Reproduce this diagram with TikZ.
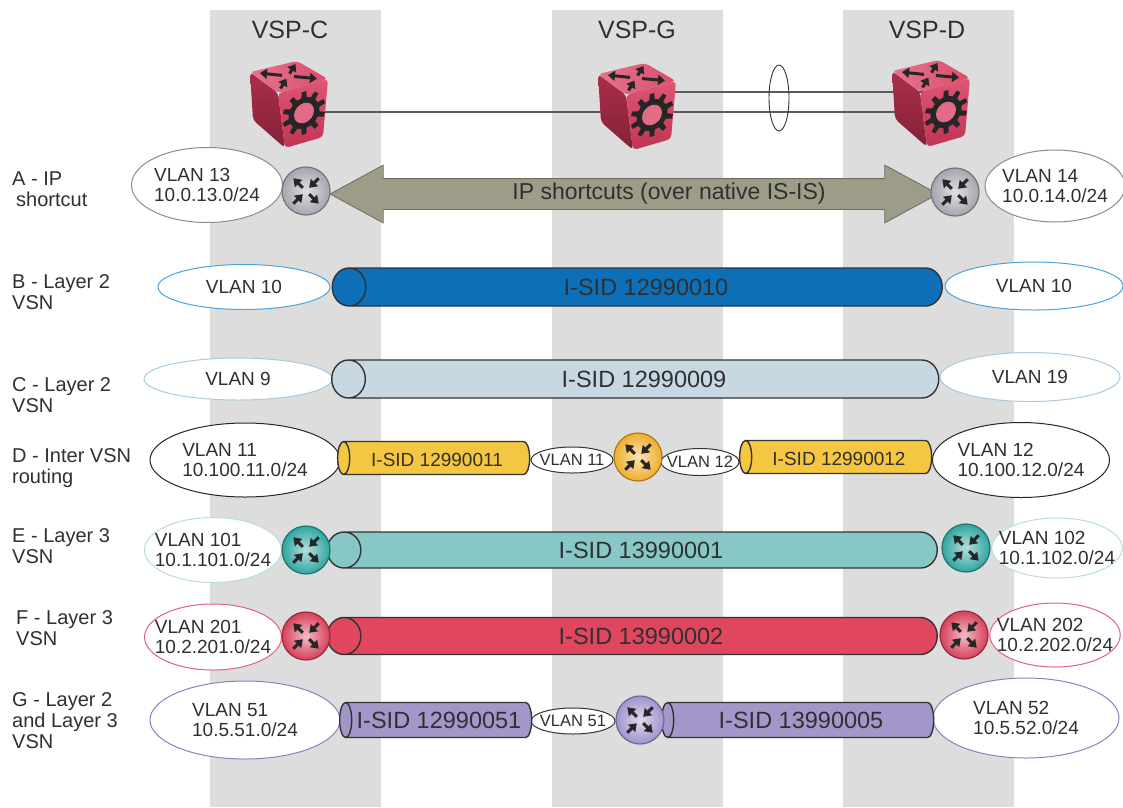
\documentclass[tikz,border=0pt]{standalone}
\usepackage{fontspec}
\setmainfont{Liberation Sans}
\usepackage{tikz}
\usetikzlibrary{shapes.geometric,shapes.arrows,arrows.meta}

\definecolor{colgray}{HTML}{DDDDDD}
\definecolor{txtgray}{HTML}{303030}
\definecolor{linkgray}{HTML}{5A5A5A}
\definecolor{vspred}{HTML}{D8395C}
\definecolor{scfill}{HTML}{9C9C88}
\definecolor{rtgray}{HTML}{A4A6AE}
\definecolor{rtorange}{HTML}{F0AE2C}
\definecolor{rtteal}{HTML}{2FA5A0}
\definecolor{rtred}{HTML}{D7405A}
\definecolor{rtpurple}{HTML}{A293CC}
\definecolor{isblue}{HTML}{0C6FB7}
\definecolor{ispale}{HTML}{C8D8E3}
\definecolor{isyellow}{HTML}{F4C641}
\definecolor{isteal}{HTML}{87C8C7}
\definecolor{isred}{HTML}{E0475F}
\definecolor{ispurple}{HTML}{A397CA}
\definecolor{olblue}{HTML}{4CA3DB}
\definecolor{olpale}{HTML}{A9CADF}
\definecolor{olteal}{HTML}{B9DED7}
\definecolor{olred}{HTML}{E2627B}
\definecolor{olpurple}{HTML}{8F7FC2}

\tikzset{
  font={\fontsize{19pt}{20pt}\selectfont},
  every node/.append style={text=txtgray},
  vlan/.style={ellipse, draw=#1, fill=white, line width=1pt, inner sep=-12pt, align=left},
  vlansmall/.style={ellipse, draw=black!80, fill=white, line width=1pt, inner sep=-12pt,
    font={\fontsize{16.5pt}{17pt}\selectfont}},
  isid/.style={cylinder, shape border rotate=180, draw=black!80, line width=1.4pt,
    cylinder uses custom fill, cylinder body fill=#1, cylinder end fill=#1,
    inner sep=0pt, text height=16pt, text depth=0pt, font={\fontsize{23.5pt}{23.5pt}\selectfont}},
  router/.style={circle, draw=#1!70!black, line width=1.2pt, inner color=#1!35!white,
    outer color=#1, minimum size=48pt, inner sep=0pt},
  rowlabel/.style={anchor=west, align=left, inner sep=0pt,
    font={\fontsize{20pt}{21pt}\selectfont}},
  devname/.style={font={\fontsize{25pt}{25pt}\selectfont}},
  link/.style={linkgray, line width=1.2pt},
  rtarrow/.style={line width=3pt, black!85, -{Triangle[length=7.5pt,width=10pt]}},
  cubearrow/.style={line width=3pt, black!85, -{Triangle[length=7pt,width=10pt]}},
  rtarrows/.pic={
    \foreach \a in {135,315} \draw[rtarrow] (\a:4.5) -- (\a:18);
    \foreach \a in {45,225} \draw[rtarrow] (\a:18) -- (\a:4.5);
  },
  vsp/.pic={
    % left, top and front faces
    \shade[top color=vspred!80!black, bottom color=vspred!60!black, rounded corners=4pt]
      (-39,33) -- (-11,12) -- (-4,-43) -- (-36,-15) -- cycle;
    \shade[left color=vspred!70!white, right color=vspred!90!white, rounded corners=4pt]
      (-39,33) -- (8,44) -- (39,26) -- (-11,12) -- cycle;
    \shade[top color=vspred!85!white, bottom color=vspred!90!black, rounded corners=4pt]
      (-11,12) -- (39,26) -- (34,-32) -- (-4,-43) -- cycle;
    % gear on the front face
    \begin{scope}[shift={(15,-8)}, yslant=0.26]
      \fill[black!85] (0:15.5) \foreach \k in {0,...,9} {
        -- ({36*\k+8}:15.5) -- ({36*\k+12}:21.5) -- ({36*\k+24}:21.5) -- ({36*\k+28}:15.5)} -- cycle;
      \fill[vspred!75!white] (0,0) circle (10);
    \end{scope}
    % arrows on the top face
    \begin{scope}[shift={(-1,29)}]
      \draw[cubearrow] (-6,0.6) -- (-28,2.9);
      \draw[cubearrow] (6,-0.5) -- (29,-2.6);
      \draw[cubearrow] (1.5,2.4) -- (7.5,12);
      \draw[cubearrow] (-7.5,-12.5) -- (-1.6,-2.6);
    \end{scope}
  }
}

\begin{document}
\begin{tikzpicture}[x=1pt,y=1pt]
\useasboundingbox[fill=white] (0,0) rectangle (1123,-807);
% device columns
\foreach \x in {210,552,843}
  \fill[colgray] (\x,-10) rectangle ++(171,-797);
\node[devname] (nameC) at (290,-30) {VSP-C};
\node[devname] (nameG) at (637,-30) {VSP-G};
\node[devname] (nameD) at (927,-30) {VSP-D};

% switches and the links between them
\coordinate (vspC) at (289,-105);
\coordinate (vspG) at (637,-107);
\coordinate (vspD) at (931,-104);
\draw[link] ([yshift=-7]vspC) -- ([yshift=-5]vspG);
\draw[link] ([yshift=-5]vspG) -- ([yshift=-8]vspD);
\draw[link] ([yshift=15]vspG) -- ([yshift=12]vspD);
\node[ellipse, draw=black!80, line width=0.9pt, minimum width=20pt, minimum height=66pt] (lag) at (779,-98) {};
\pic at (vspC) {vsp};
\pic at (vspG) {vsp};
\pic at (vspD) {vsp};

% row labels
\node[rowlabel] (lblA) at (12,-189) {A - IP\\\hspace*{4pt}shortcut};
\node[rowlabel] (lblB) at (12,-292) {B - Layer 2\\VSN};
\node[rowlabel] (lblC) at (12,-395) {C - Layer 2\\VSN};
\node[rowlabel] (lblD) at (12,-468) {D - Inter VSN\\routing};
\node[rowlabel] (lblE) at (12,-546) {E - Layer 3\\VSN};
\node[rowlabel] (lblF) at (16,-628) {F - Layer 3\\VSN};
\node[rowlabel] (lblG) at (12,-721) {G - Layer 2\\and Layer 3\\VSN};

% A - IP shortcut
\node[vlan=black!45, minimum width=151pt, minimum height=75pt] (v13) at (207,-185) {VLAN 13\\10.0.13.0/24};
\node[vlan=black!45, minimum width=140pt, minimum height=72pt] (v14) at (1055,-186) {VLAN 14\\10.0.14.0/24};
\node[double arrow, fill=scfill, draw=scfill!70!black, line width=0.8pt,
  minimum height=608pt, double arrow head extend=13.5pt, double arrow tip angle=57,
  text height=15pt, text depth=4.5pt, inner ysep=5.25pt, inner xsep=0pt,
  font={\fontsize{23pt}{23pt}\selectfont}] (ipsc) at (634,-194) {\hspace*{70pt}IP shortcuts (over native IS-IS)};
\node[router=rtgray] (rA1) at (306,-191) {};
\node[router=rtgray] (rA2) at (955,-192) {};
\pic at (rA1) {rtarrows};
\pic at (rA2) {rtarrows};

% B - Layer 2 VSN
\node[vlan=olblue, minimum width=172pt, minimum height=45pt] (v10a) at (244,-287) {VLAN 10};
\node[vlan=olblue, minimum width=178pt, minimum height=48pt] (v10b) at (1034,-286) {VLAN 10};
\node[isid=isblue, minimum height=610pt, minimum width=38pt, shape aspect=2.1] (sB) at (646,-287) {I-SID 12990010};

% C - Layer 2 VSN
\node[vlan=olpale, minimum width=188pt, minimum height=42pt] (v9) at (238,-379) {VLAN 9};
\node[vlan=olpale, minimum width=180pt, minimum height=49pt] (v19) at (1030,-377) {VLAN 19};
\node[isid=ispale, minimum height=607pt, minimum width=38pt, shape aspect=2.1] (sC) at (644,-379) {I-SID 12990009};

% D - Inter VSN routing
\node[vlan=black!85, minimum width=190pt, minimum height=74pt] (v11) at (245,-460) {VLAN 11\\10.100.11.0/24};
\node[vlan=black!85, minimum width=177pt, minimum height=75pt] (v12) at (1021,-460) {VLAN 12\\10.100.12.0/24};
\node[vlansmall, minimum width=82pt, minimum height=26pt] (v11s) at (572,-460) {VLAN 11};
\node[vlansmall, minimum width=78pt, minimum height=27pt] (v12s) at (700,-462) {VLAN 12};
\node[isid=isyellow, minimum height=192pt, minimum width=33pt, shape aspect=0.75,
  font={\fontsize{19pt}{19pt}\selectfont}] (sD1) at (437,-458) {I-SID 12990011};
\node[isid=isyellow, minimum height=192pt, minimum width=33pt, shape aspect=0.75,
  font={\fontsize{19pt}{19pt}\selectfont}] (sD2) at (839,-457) {I-SID 12990012};
\node[router=rtorange] (rD) at (638,-457) {};
\pic at (rD) {rtarrows};

% E - Layer 3 VSN
\node[vlan=olteal, minimum width=137pt, minimum height=65pt] (v101) at (213,-550) {VLAN 101\\10.1.101.0/24};
\node[vlan=olteal, minimum width=130pt, minimum height=60pt] (v102) at (1057,-548) {VLAN 102\\10.1.102.0/24};
\node[isid=isteal, minimum height=610pt, minimum width=36pt, shape aspect=2.1] (sE) at (641,-550) {I-SID 13990001};
\node[router=rtteal] (rE1) at (306,-550) {};
\node[router=rtteal] (rE2) at (966,-548) {};
\pic at (rE1) {rtarrows};
\pic at (rE2) {rtarrows};

% F - Layer 3 VSN
\node[vlan=olred, minimum width=137pt, minimum height=66pt] (v201) at (213,-637) {VLAN 201\\10.2.201.0/24};
\node[vlan=olred, minimum width=130pt, minimum height=64pt] (v202) at (1055,-635) {VLAN 202\\10.2.202.0/24};
\node[isid=isred, minimum height=610pt, minimum width=37pt, shape aspect=2.1] (sF) at (641,-636) {I-SID 13990002};
\node[router=rtred] (rF1) at (306,-636) {};
\node[router=rtred] (rF2) at (964,-635) {};
\pic at (rF1) {rtarrows};
\pic at (rF2) {rtarrows};

% G - Layer 2 and Layer 3 VSN
\node[vlan=olpurple, minimum width=190pt, minimum height=78pt] (v51) at (245,-720) {VLAN 51\\10.5.51.0/24};
\node[vlan=olpurple, minimum width=186pt, minimum height=80pt] (v52) at (1026,-718) {VLAN 52\\10.5.52.0/24};
\node[vlansmall, minimum width=84pt, minimum height=26pt] (v51s) at (573,-721) {VLAN 51};
\node[isid=ispurple, minimum height=192pt, minimum width=35pt, shape aspect=0.75] (sG1) at (439,-720) {I-SID 12990051};
\node[isid=ispurple, minimum height=272pt, minimum width=35pt, shape aspect=0.75] (sG2) at (801,-720) {I-SID 13990005};
\node[router=rtpurple] (rG) at (640,-720) {};
\pic at (rG) {rtarrows};
\end{tikzpicture}
\end{document}
